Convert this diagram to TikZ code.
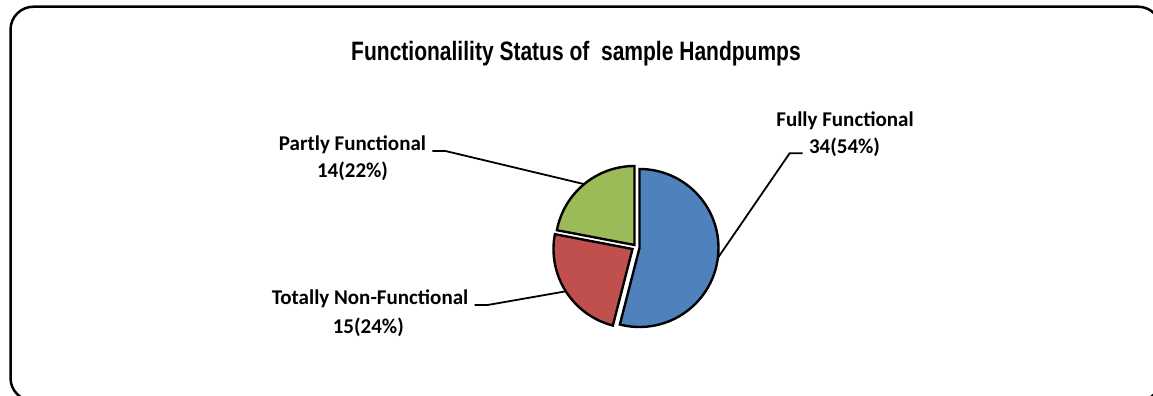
\documentclass[tikz,border=0pt]{standalone}
\usepackage{fontspec}
\setmainfont{Carlito}
\newfontfamily\titlefont[FakeStretch=0.79]{Liberation Sans}
\usetikzlibrary{positioning}

\definecolor{pieblue}{HTML}{4F81BD}
\definecolor{piered}{HTML}{C0504D}
\definecolor{piegreen}{HTML}{9BBB59}

\begin{document}
\begin{tikzpicture}[
        x=0.5pt, y=0.5pt,
        frame/.style={
            draw, 
            line width=1.25pt, 
            rounded corners=11.5pt
        },
        slice/.style={
            draw, 
            line width=1.2pt
        },
        lbl/.style={
            anchor=base, 
            inner sep=3pt, 
            font=\fontsize{10.5}{12}\selectfont\bfseries
        },
        ttl/.style={
            anchor=base, 
            inner sep=0pt, 
            font=\titlefont\fontsize{13.3}{15}\selectfont\bfseries
        },
        leader/.style={draw, line width=0.9pt}
    ]
        \useasboundingbox (0,0) rectangle (1153,396);
        
        % -- Ramka (Frame) --
        \draw [frame] (10.5,389.3) rectangle (1161,-5);
        
        % Tytul
        \node [ttl] (title) at (576,335) {Functionalility Status of~ sample Handpumps};
        
        % -- Wycinki (Slices) --
        \coordinate (bluec) at (639.5,148);
        \coordinate (redc) at (632.5,147);
        \coordinate (greenc) at (634.5,151);
        
        \path [slice, fill=pieblue] (bluec) -- ++(90:79) arc[start angle=90, end angle=-104.4, radius=79] -- cycle;
        \path [slice, fill=piered] (redc) -- ++(-104.4:79) arc[start angle=-104.4, end angle=-190.8, radius=79] -- cycle;
        \path [slice, fill=piegreen] (greenc) -- ++(169.2:79) arc[start angle=169.2, end angle=90, radius=79] -- cycle;
        
        % punkty na obwodzie
        \path (bluec) ++(-7.2:79) coordinate (bluetip);
        \path (redc) ++(-147.6:79) coordinate (redtip);
        \path (greenc) ++(129.6:79) coordinate (greentip);
        
        % -- Etykiety (Labels) --
        \node [lbl] (partlyname) at (352.5,245) {Partly Functional};
        \node [lbl] (partlyval) at (352.5,218.7) {14(22\%)};
        
        \node [lbl] (totalname) at (370,91) {Totally Non-Functional};
        \node [lbl] (totalval) at (368.3,62.7) {15(24\%)};
        
        \node [lbl] (fullyname) at (845,269.3) {Fully Functional};
        \node [lbl] (fullyval) at (844.5,242.7) {34(54\%)};
        
        % -- Linie (Leaders) --
        \path [leader] (partlyname.base east) -- ++(13,0) -- (greentip);
        \path [leader] (totalname.base east) -- ++(13,0) -- (redtip);
        \path [leader] (fullyval.base west) -- ++(-13,0) -- (bluetip);
        
    \end{tikzpicture}
\end{document}
